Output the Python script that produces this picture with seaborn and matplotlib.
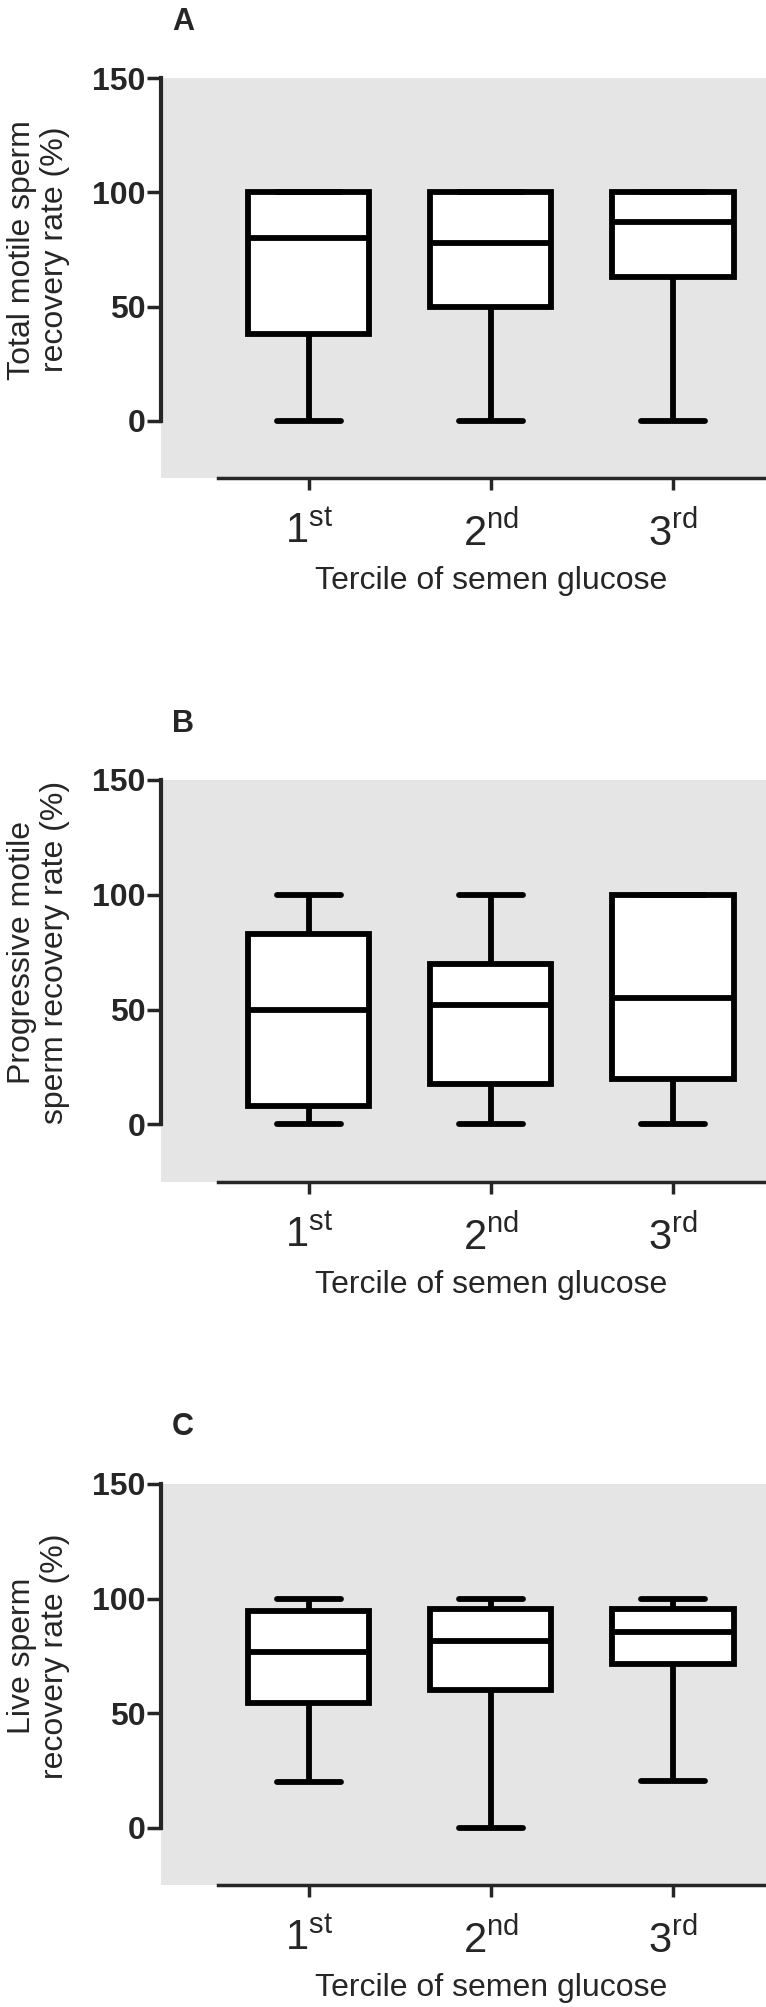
import numpy as np
import pandas as pd
import matplotlib
matplotlib.use("Agg")
import matplotlib.pyplot as plt
import seaborn as sns

# terciles of semen glucose
terciles = ["1st", "2nd", "3rd"]
tick_labels = [r"1$^{\mathrm{st}}$", r"2$^{\mathrm{nd}}$", r"3$^{\mathrm{rd}}$"]
yticks = [0, 50, 100, 150]

# five-number summaries: min, Q1, median, Q3, max
total_motile = [
    [0, 38, 80, 100, 100],
    [0, 50, 78, 100, 100],
    [0, 63, 87, 100, 100],
]
progressive_motile = [
    [0, 8, 50, 83, 100],
    [0, 17.5, 52, 70, 100],
    [0, 20, 55, 100, 100],
]
live_sperm = [
    [20, 54.5, 76.5, 94.5, 100],
    [0, 60, 81.5, 95.5, 100],
    [20.5, 71.5, 85.5, 95.5, 100],
]

sns.set_style("ticks")
plt.rcParams["font.family"] = ["Liberation Sans", "DejaVu Sans"]
plt.rcParams["mathtext.fontset"] = "custom"
plt.rcParams["mathtext.rm"] = "Liberation Sans"
plt.rcParams["mathtext.it"] = "Liberation Sans:italic"
plt.rcParams["mathtext.bf"] = "Liberation Sans:bold"

panels = [
    ("A", total_motile, "Total motile sperm\nrecovery rate (%)", [0.2102, 0.7618, 0.7898, 0.1993], 22),
    ("B", progressive_motile, "Progressive motile\nsperm recovery rate (%)", [0.2102, 0.4111, 0.7898, 0.2003], 724),
    ("C", live_sperm, "Live sperm\nrecovery rate (%)", [0.2102, 0.0608, 0.7898, 0.1998], 1427),
]

fig = plt.figure(figsize=(7.66, 20.07), dpi=100)

for letter, values, ylabel, rect, letter_y in panels:
    ax = fig.add_axes(rect)
    df = pd.DataFrame({
        "tercile": np.repeat(terciles, 5),
        "rate": np.concatenate(values),
    })
    sns.boxplot(data=df, x="tercile", y="rate", order=terciles, ax=ax,
                width=0.665, whis=(0, 100), color="white", linecolor="black",
                linewidth=4.2, fliersize=0, capwidths=0.35)

    ax.set_facecolor("#e5e5e5")
    ax.set_xlim(-0.81, 2.51)
    ax.set_ylim(-25, 150)
    ax.set_yticks(yticks)
    ax.set_xticks(range(3))
    ax.set_xticklabels(tick_labels)
    sns.despine(ax=ax)
    ax.spines["left"].set_bounds(0, 150)
    ax.spines["bottom"].set_bounds(-0.5, 2.51)
    ax.spines["left"].set_linewidth(3)
    ax.spines["bottom"].set_linewidth(2.5)

    ax.tick_params(axis="y", length=10, width=2.5, pad=1, labelsize=23)
    ax.tick_params(axis="x", length=8.5, width=2.5, pad=16, labelsize=30)
    for lbl in ax.get_yticklabels():
        lbl.set_fontweight("bold")

    ax.set_ylabel(ylabel, fontsize=23, linespacing=1.15)
    ax.yaxis.set_label_coords(-0.15, 0.571)
    ax.set_xlabel("Tercile of semen glucose", fontsize=23)
    ax.xaxis.set_label_coords(0.545, -0.22)
    ax.xaxis.label.set_va("top")

    fig.text(183 / 766, 1 - letter_y / 2007, letter, fontsize=22,
             fontweight="bold", ha="center", va="center")

fig.savefig("out.png", dpi=100)
